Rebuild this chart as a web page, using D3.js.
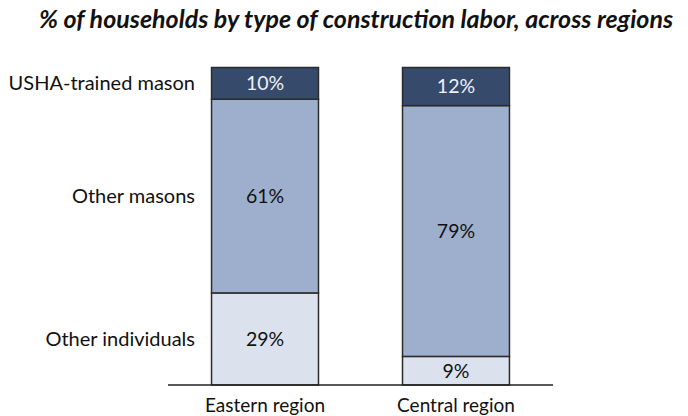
<!DOCTYPE html>
<html>
<head>
<meta charset="utf-8">
<title>construction labor by region</title>
<script src="https://cdnjs.cloudflare.com/ajax/libs/d3/7.8.5/d3.min.js"></script>
<style>
  html, body { margin: 0; padding: 0; background: #fff; }
  svg text { font-family: Lato, "Open Sans", sans-serif; }
</style>
</head>
<body>
<svg id="chart" width="688" height="416"></svg>
<script>
var regions = ['Eastern region', 'Central region'];
var series = ['Other individuals', 'Other masons', 'USHA-trained mason'];
var otherIndividuals = [29, 9];
var otherMasons = [61, 79];
var ushaTrained = [10, 12];

var colors = ['#dce2ed', '#9eafcd', '#364a6c'];
var textColors = ['#111', '#111', '#eef1f6'];

var svg = d3.select('#chart');

var x = d3.scaleBand()
    .domain(regions)
    .range([168, 553])
    .paddingInner(0.44)
    .paddingOuter(0.228);

var y = d3.scaleLinear()
    .domain([0, 100])
    .range([385, 67.5]);

var rows = regions.map(function (r, i) {
  return { region: r, 'Other individuals': otherIndividuals[i], 'Other masons': otherMasons[i], 'USHA-trained mason': ushaTrained[i] };
});
var stacked = d3.stack().keys(series)(rows);

svg.append('text')
    .attr('x', 356)
    .attr('y', 28)
    .attr('text-anchor', 'middle')
    .attr('font-size', 25)
    .attr('font-weight', 'bold')
    .attr('font-style', 'italic')
    .attr('fill', '#111')
    .text('% of households by type of construction labor, across regions');

var layer = svg.selectAll('.layer')
    .data(stacked)
    .enter().append('g')
    .attr('class', 'layer');

layer.selectAll('rect')
    .data(function (d) { return d.map(function (p) { return { p: p, key: d.key, idx: d.index }; }); })
    .enter().append('rect')
    .attr('x', function (d) { return x(d.p.data.region); })
    .attr('width', x.bandwidth())
    .attr('y', function (d) { return y(d.p[1]); })
    .attr('height', function (d) { return y(d.p[0]) - y(d.p[1]); })
    .attr('fill', function (d) { return colors[d.idx]; })
    .attr('stroke', '#2b2b2b')
    .attr('stroke-width', 1.5);

layer.selectAll('text')
    .data(function (d) { return d.map(function (p) { return { p: p, key: d.key, idx: d.index }; }); })
    .enter().append('text')
    .attr('x', function (d) { return x(d.p.data.region) + x.bandwidth() / 2; })
    .attr('y', function (d) { return (y(d.p[0]) + y(d.p[1])) / 2; })
    .attr('dy', '0.35em')
    .attr('text-anchor', 'middle')
    .attr('font-size', 19.5)
    .attr('fill', function (d) { return textColors[d.idx]; })
    .text(function (d) { return (d.p[1] - d.p[0]) + '%'; });

// series labels beside the first bar
svg.selectAll('.series-label')
    .data(stacked)
    .enter().append('text')
    .attr('class', 'series-label')
    .attr('x', 195)
    .attr('y', function (d) { return (y(d[0][0]) + y(d[0][1])) / 2; })
    .attr('dy', '0.35em')
    .attr('text-anchor', 'end')
    .attr('font-size', 20)
    .attr('fill', '#111')
    .text(function (d) { return d.key; });

// baseline
svg.append('line')
    .attr('x1', 168)
    .attr('x2', 553)
    .attr('y1', y(0))
    .attr('y2', y(0))
    .attr('stroke', '#222')
    .attr('stroke-width', 1.5);

svg.selectAll('.region-label')
    .data(regions)
    .enter().append('text')
    .attr('class', 'region-label')
    .attr('x', function (d) { return x(d) + x.bandwidth() / 2; })
    .attr('y', 412)
    .attr('text-anchor', 'middle')
    .attr('font-size', 19)
    .attr('fill', '#111')
    .text(function (d) { return d; });
</script>
</body>
</html>
